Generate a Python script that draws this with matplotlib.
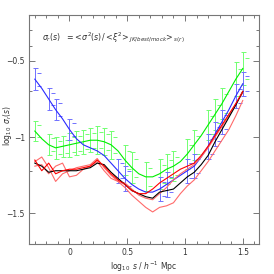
"""
Clustering variance ratio vs scale: log10 sigma_r(s) for the mocks / jackknife
estimates, with error bars on the blue and green samples.
"""

import numpy as np
import matplotlib.pyplot as plt

# bin centres, log10 s / h^-1 Mpc
log_s = [-0.30, -0.24, -0.18, -0.12, -0.06, 0.00, 0.06, 0.12, 0.18, 0.24,
         0.30, 0.36, 0.42, 0.48, 0.54, 0.60, 0.66, 0.72, 0.78, 0.84,
         0.90, 0.96, 1.02, 1.08, 1.14, 1.20, 1.26, 1.32, 1.38, 1.44, 1.50]

blue = [-0.62, -0.68, -0.75, -0.82, -0.88, -0.95, -1.01, -1.05, -1.07, -1.09,
        -1.12, -1.17, -1.22, -1.27, -1.31, -1.34, -1.36, -1.36, -1.34, -1.31,
        -1.28, -1.25, -1.22, -1.19, -1.13, -1.06, -0.98, -0.90, -0.82, -0.73, -0.65]
green = [-0.96, -1.01, -1.05, -1.07, -1.06, -1.05, -1.04, -1.03, -1.02, -1.02,
         -1.03, -1.05, -1.09, -1.15, -1.20, -1.24, -1.26, -1.26, -1.24, -1.21,
         -1.19, -1.16, -1.11, -1.05, -0.99, -0.92, -0.85, -0.78, -0.70, -0.62, -0.55]
black = [-1.17, -1.19, -1.23, -1.22, -1.22, -1.22, -1.22, -1.21, -1.20, -1.17,
         -1.18, -1.23, -1.27, -1.31, -1.35, -1.37, -1.39, -1.40, -1.36, -1.35,
         -1.34, -1.30, -1.26, -1.23, -1.18, -1.12, -1.03, -0.95, -0.87, -0.79, -0.70]
red = [-1.15, -1.22, -1.17, -1.24, -1.22, -1.21, -1.21, -1.20, -1.19, -1.15,
       -1.19, -1.24, -1.28, -1.31, -1.35, -1.37, -1.37, -1.34, -1.30, -1.27,
       -1.24, -1.21, -1.19, -1.17, -1.12, -1.06, -0.99, -0.92, -0.85, -0.78, -0.70]
red_lo = [-1.16, -1.13, -1.20, -1.29, -1.24, -1.22, -1.20, -1.19, -1.18, -1.14,
          -1.20, -1.25, -1.29, -1.33, -1.38, -1.42, -1.46, -1.49, -1.46, -1.45,
          -1.43, -1.37, -1.32, -1.28, -1.22, -1.16, -1.09, -1.02, -0.95, -0.86, -0.76]
red_hi = [-1.19, -1.18, -1.24, -1.19, -1.17, -1.26, -1.25, -1.21, -1.19, -1.16,
          -1.22, -1.27, -1.29, -1.30, -1.34, -1.38, -1.40, -1.41, -1.37, -1.33,
          -1.28, -1.24, -1.21, -1.18, -1.13, -1.07, -1.00, -0.93, -0.86, -0.78, -0.71]

# which bins carry error bars, and their half-widths
blue_eb_idx = [0, 2, 3, 5, 12, 13, 18, 19, 22, 23, 25, 26, 27, 29, 30]
blue_err = [0.07, 0.07, 0.07, 0.07, 0.08, 0.08, 0.08, 0.08, 0.08, 0.08,
            0.08, 0.08, 0.08, 0.08, 0.08]
green_eb_idx = [0, 2, 3, 4, 5, 6, 7, 8, 9, 10, 11, 13, 14, 16, 18, 19, 20,
                22, 23, 25, 26, 27, 29, 30]
green_err = [0.065, 0.07, 0.07, 0.07, 0.08, 0.08, 0.08, 0.08, 0.09, 0.09,
             0.09, 0.10, 0.10, 0.095, 0.10, 0.10, 0.10, 0.10, 0.10, 0.10,
             0.10, 0.10, 0.11, 0.11]

xticks_major = [0, 0.5, 1, 1.5]
xtick_labels = ["0", "0.5", "1", "1.5"]
yticks_major = [-0.5, -1, -1.5]
ytick_labels = ["\u22120.5", "\u22121", "\u22121.5"]
yticks_minor = [-0.30, -0.40, -0.70, -1.22, -1.70]

TITLE = r"$\sigma_r(s)\ \ =\!<\!\sigma^2(s)/<\!\xi^2\!>_{JK/best/mock}\!>_{s(r)}$"
TEXT = "#333333"


def errbar(ax, x, y, idx, err, color):
    xs = np.array([x[i] for i in idx])
    ys = np.array([y[i] for i in idx])
    e = np.array(err)
    ax.errorbar(xs, ys, yerr=e, fmt="none", ecolor=color, elinewidth=0.7,
                capsize=1.8, capthick=0.7, zorder=2)
    # caps of the second (offset) estimate
    for sign in (1, -1):
        ax.plot(xs + 0.035, ys + sign * 0.6 * e, ls="none", marker="_", ms=3.5,
                mew=0.7, color=color, zorder=2)


def main():
    plt.rcParams["font.family"] = "DejaVu Sans"
    plt.rcParams["mathtext.fontset"] = "dejavusans"

    fig = plt.figure(figsize=(2.74, 2.74), dpi=100)
    ax = fig.add_axes([0.106, 0.1095, 0.839, 0.8355])

    errbar(ax, log_s, green, green_eb_idx, green_err, "#70ff70")
    errbar(ax, log_s, blue, blue_eb_idx, blue_err, "#7070ff")

    ax.plot(log_s, green, color="#00ee00", lw=0.8, zorder=3)
    ax.plot(log_s, blue, color="#2a2aff", lw=0.8, zorder=3)
    ax.plot(log_s, red_lo, color="#ff6a6a", lw=0.8, zorder=3)
    ax.plot(log_s, red_hi, color="#ff6a6a", lw=0.8, zorder=3)
    ax.plot(log_s, black, color="black", lw=0.8, zorder=4)
    ax.plot(log_s, red, color="#ff0000", lw=0.8, zorder=4)

    ax.set_xlim(-0.35, 1.64)
    ax.set_ylim(-1.70, -0.20)

    ax.set_xticks(xticks_major)
    ax.set_xticklabels(xtick_labels)
    ax.set_xticks(np.round(np.arange(-0.3, 1.65, 0.1), 2), minor=True)
    ax.set_yticks(yticks_major)
    ax.set_yticklabels(ytick_labels)
    ax.set_yticks(yticks_minor, minor=True)

    frame = "#777777"
    for sp in ax.spines.values():
        sp.set_color(frame)
        sp.set_linewidth(0.8)
    ax.tick_params(which="both", direction="in", top=True, right=True,
                   color=frame, width=0.7, labelsize=5.5, labelcolor=TEXT)
    ax.tick_params(which="major", length=4, pad=3)
    ax.tick_params(which="minor", length=2.2)

    ax.set_xlabel(r"$\log_{10}\ s\ /\ h^{-1}\ \mathrm{Mpc}$", fontsize=5.5,
                  color=TEXT, labelpad=2)
    fig.text(7 / 274, 1 - 125 / 274, r"$\log_{10}\ \sigma_r(s)$", fontsize=5.5,
             color=TEXT, rotation=90, ha="center", va="center")
    ax.text(0.055, 0.90, TITLE, transform=ax.transAxes, fontsize=5.7,
            color=TEXT, va="center", ha="left")

    fig.savefig("out.png", dpi=100)
    plt.close(fig)


if __name__ == "__main__":
    main()
